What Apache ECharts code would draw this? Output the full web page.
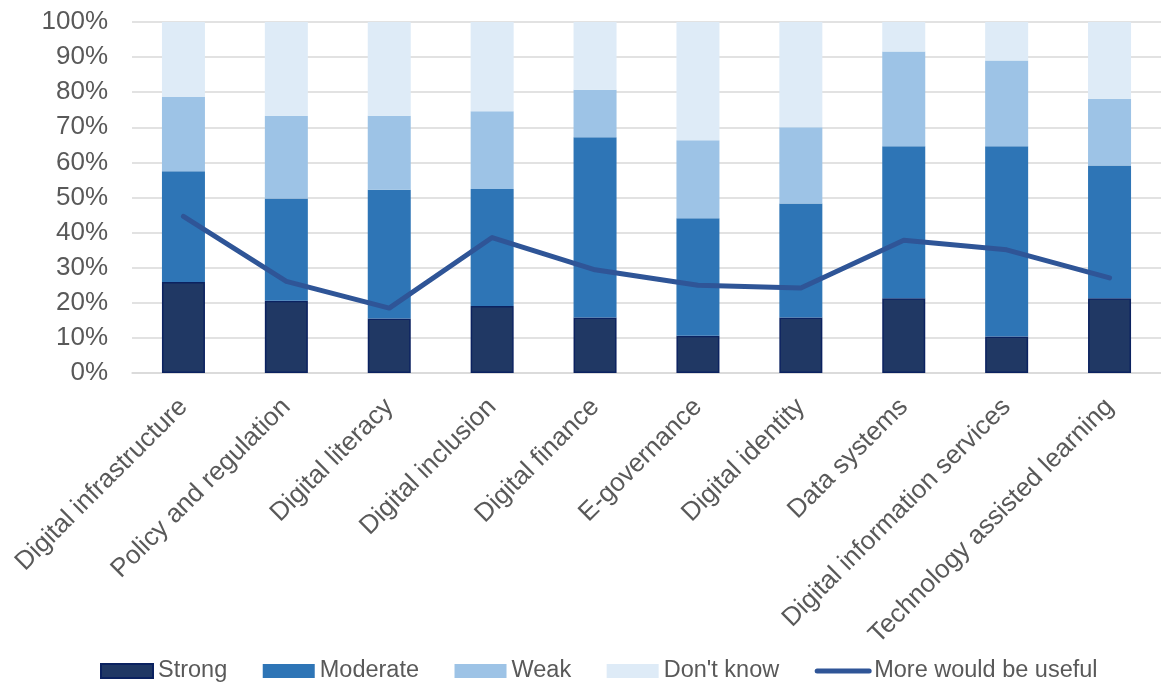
<!DOCTYPE html>
<html>
<head>
<meta charset="utf-8">
<script src="https://cdn.jsdelivr.net/npm/echarts@6/dist/echarts.min.js"></script>
<style>
  html, body { margin: 0; padding: 0; background: #ffffff; }
  #chart { width: 1161px; height: 684px; }
</style>
</head>
<body>
<div id="chart"></div>
<script>
// Digital areas assessed
const categories = [
  'Digital infrastructure', 'Policy and regulation', 'Digital literacy',
  'Digital inclusion', 'Digital finance', 'E-governance', 'Digital identity',
  'Data systems', 'Digital information services', 'Technology assisted learning'
];

// Share of responses (%) per rating
const strong   = [25.9, 20.6, 15.5, 19.1, 15.8, 10.6, 15.8, 21.3, 10.4, 21.3];
const moderate = [31.6, 29.1, 36.7, 33.3, 51.4, 33.5, 32.5, 43.3, 54.2, 37.8];
const weak     = [21.1, 23.6, 21.1, 22.2, 13.5, 22.2, 21.7, 27.0, 24.4, 19.0];
const dontKnow = [21.4, 26.7, 26.7, 25.4, 19.3, 33.7, 30.0,  8.4, 11.0, 21.9];

// Share saying more support would be useful (%)
const moreUseful = [44.6, 26.1, 18.5, 38.6, 29.4, 25.0, 24.2, 37.8, 35.1, 27.1];

const yTicks = [0, 10, 20, 30, 40, 50, 60, 70, 80, 90, 100];

const FONT = '"Liberation Sans", Arial, sans-serif';
const TEXT = '#595959';
const LINE_COLOR = '#2F5597';

const chart = echarts.init(document.getElementById('chart'), null, { renderer: 'canvas' });

function barSeries(name, data, color, extra) {
  return Object.assign({
    name: name,
    type: 'bar',
    stack: 'rating',
    data: data,
    barWidth: 43,
    itemStyle: { color: color },
    emphasis: { disabled: true }
  }, extra || {});
}

chart.setOption({
  animation: false,
  textStyle: { fontFamily: FONT },
  grid: { left: 132, right: -4, top: 22, bottom: 311, containLabel: false },
  legend: {
    bottom: -4,
    left: 95,
    itemWidth: 52,
    itemHeight: 14,
    itemGap: 35.5,
    textStyle: { fontFamily: FONT, fontSize: 23.5, color: TEXT },
    data: [
      { name: 'Strong', icon: 'rect' },
      { name: 'Moderate', icon: 'rect' },
      { name: 'Weak', icon: 'rect' },
      { name: "Don't know", icon: 'rect' },
      {
        name: 'More would be useful',
        itemStyle: { opacity: 0, borderWidth: 0 },
        lineStyle: { width: 5, cap: 'round', color: LINE_COLOR }
      }
    ]
  },
  xAxis: {
    type: 'category',
    data: categories,
    axisTick: { show: false },
    axisLine: { lineStyle: { color: '#D9D9D9', width: 1.5 } },
    axisLabel: {
      rotate: 45,
      interval: 0,
      margin: 30,
      fontSize: 26,
      color: TEXT,
      fontFamily: FONT
    }
  },
  yAxis: {
    type: 'value',
    min: yTicks[0],
    max: yTicks[yTicks.length - 1],
    interval: yTicks[1] - yTicks[0],
    axisLine: { show: false },
    axisTick: { show: false },
    splitLine: { lineStyle: { color: '#D9D9D9', width: 1.5 } },
    axisLabel: {
      formatter: '{value}%',
      fontSize: 26,
      color: TEXT,
      fontFamily: FONT,
      margin: 24
    }
  },
  series: [
    barSeries('Strong', strong, '#203864', {
      itemStyle: { color: '#203864', borderColor: '#0B2260', borderWidth: 1.5 }
    }),
    barSeries('Moderate', moderate, '#2E75B6'),
    barSeries('Weak', weak, '#9DC3E6'),
    barSeries("Don't know", dontKnow, '#DEEBF7'),
    {
      name: 'More would be useful',
      type: 'line',
      data: moreUseful,
      symbol: 'none',
      itemStyle: { color: LINE_COLOR },
      lineStyle: { color: LINE_COLOR, width: 5, cap: 'round', join: 'round' },
      emphasis: { disabled: true },
      z: 5
    }
  ]
});
</script>
</body>
</html>
